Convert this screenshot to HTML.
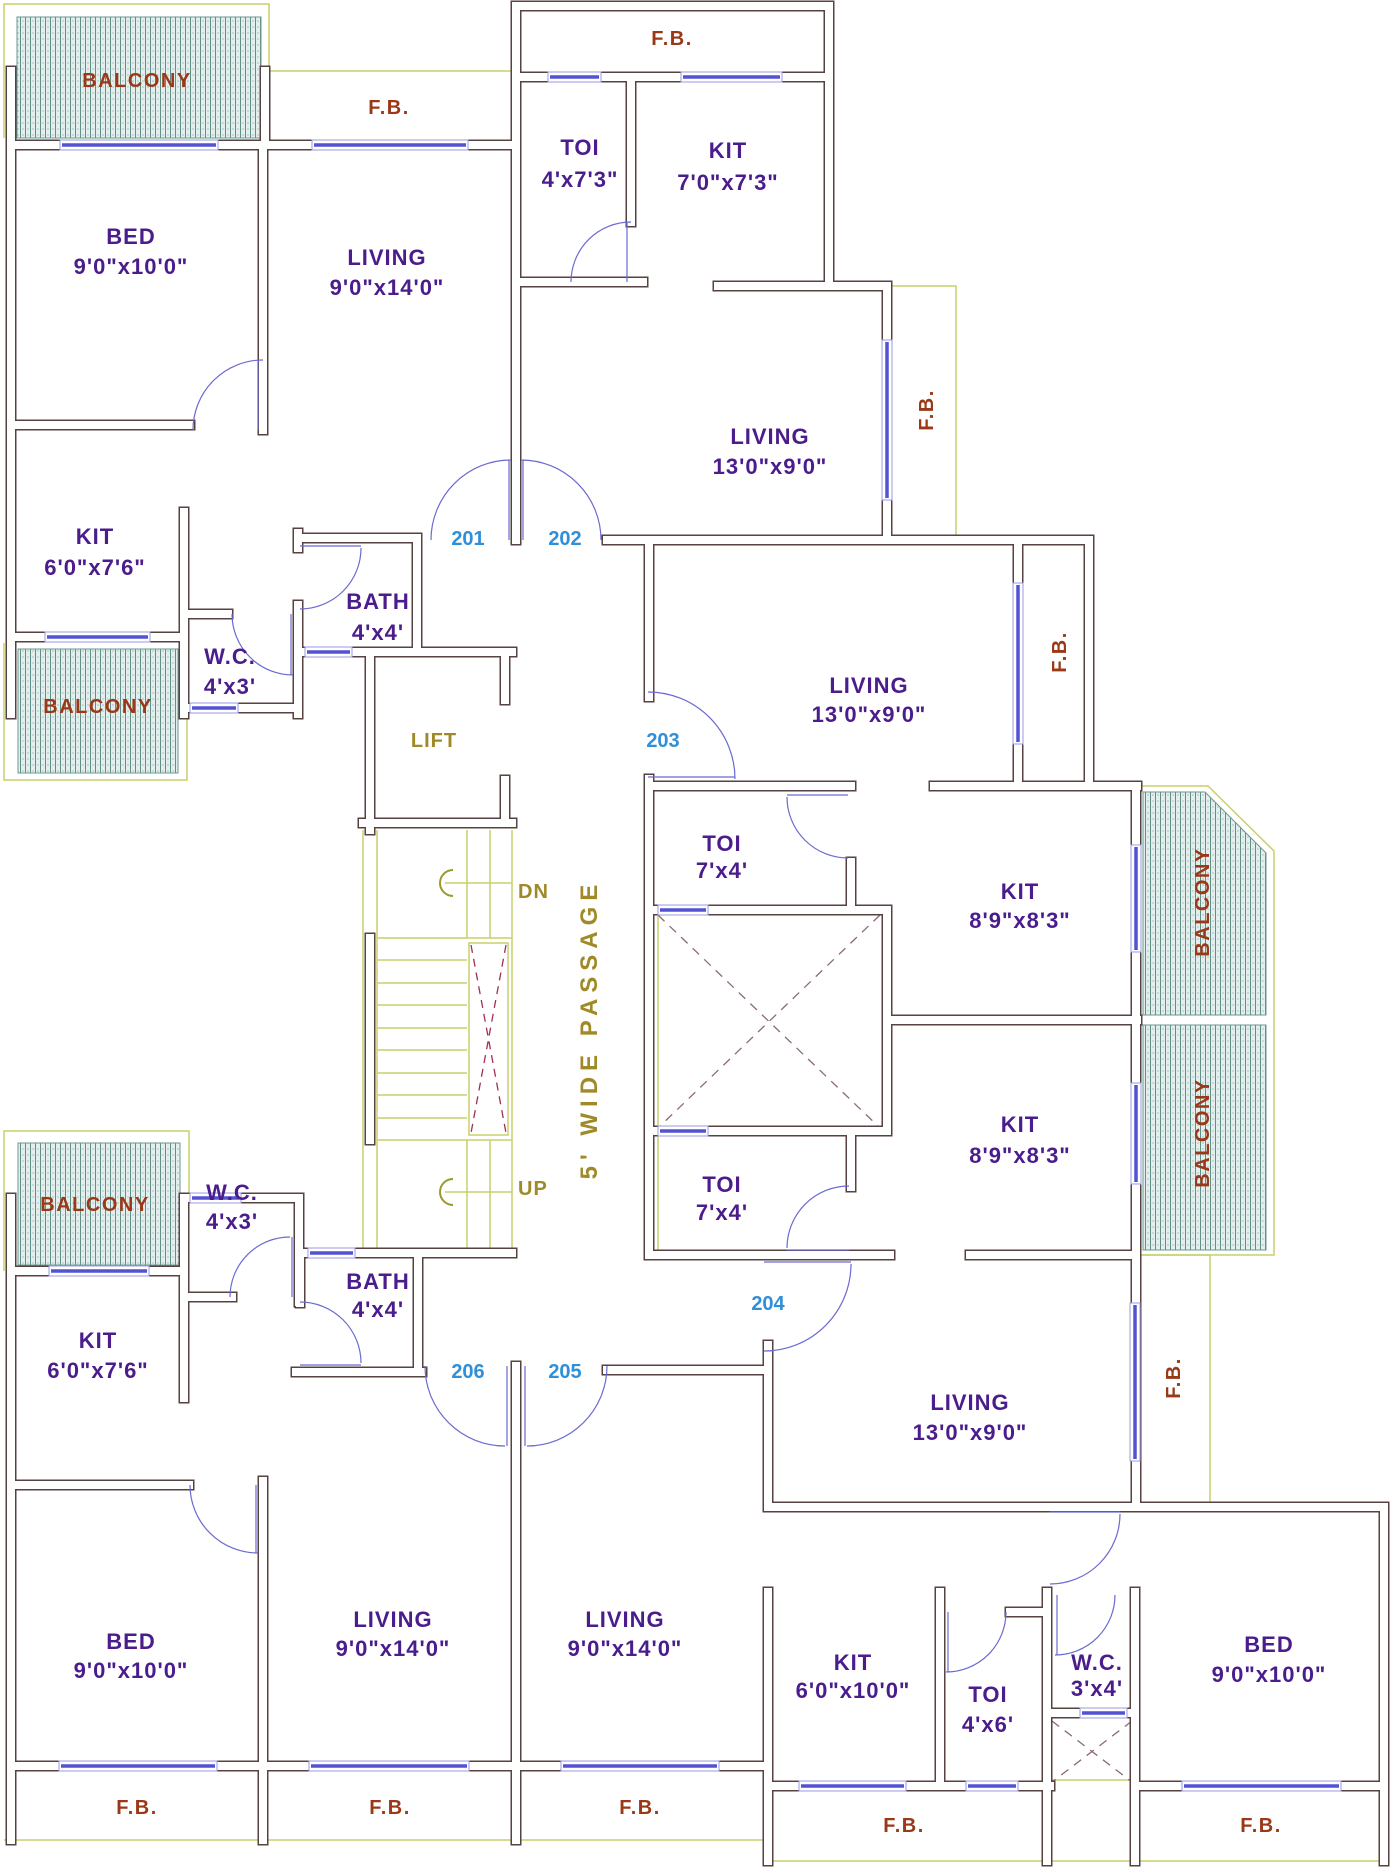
<!DOCTYPE html>
<html><head><meta charset="utf-8"><style>
html,body{margin:0;padding:0;background:#fff;}
svg{display:block;}
text{font-family:"Liberation Sans",Arial,sans-serif;font-weight:bold;}
.r{fill:#4a1c8c;font-size:22px;text-anchor:middle;letter-spacing:1px;}
.b{fill:#9a3818;font-size:20px;text-anchor:middle;letter-spacing:1.5px;}
.n{fill:#2f8fd8;font-size:20px;text-anchor:middle;}
.o{fill:#a08a28;font-size:20px;letter-spacing:1px;}
</style></head><body>
<svg width="1399" height="1867" viewBox="0 0 1399 1867" xmlns="http://www.w3.org/2000/svg">
<defs>
<pattern id="h" width="5" height="6" patternUnits="userSpaceOnUse">
<rect width="5" height="6" fill="#e4efed"/>
<line x1="0.5" y1="0" x2="0.5" y2="6" stroke="#5f8f86" stroke-width="1"/>
<circle cx="3" cy="3" r="0.6" fill="#7aa39b"/>
</pattern>
<path id="wp" d="
M11 71 V714 M11 145 H516 M265 71 V145 M263 145 V430 M11 425 H190 M516 6 V540
M184 512 V714 M11 637 H184 M184 614 H228 M298 533 V548 M298 605 V714 M298 538 H417 V652
M298 652 H512 M184 708 H298
M370 652 V830 M363 823 H512 M505 652 V700 M505 780 V823 M370 938 V1140 M300 1253 H512
M516 6 H829 V286 M516 77 H829 M631 77 V222 M516 282 H643 M718 286 H887 M887 286 V540
M607 540 H1089 V786 M1018 540 V786
M649 540 V697 M649 779 V1255 M649 786 H851 M934 786 H1137
M649 910 H887 M851 862 V910 M887 910 V1131 M887 1020 H1137 M1136 786 V1507
M649 1131 H887 M851 1131 V1187 M649 1255 H890 M970 1255 H1136
M768 1345 V1507 M607 1370 H768 M768 1507 H1384 V1861 M768 1592 V1861
M940 1592 V1786 M1010 1612 H1047 M1047 1592 V1861 M1135 1592 V1861 M1050 1713 H1135
M768 1786 H1050 M1135 1786 H1384
M11 1198 V1840 M184 1198 V1398 M11 1271 H184 M184 1198 H299 V1302 M188 1297 H232
M300 1253 V1303 M418 1253 V1372 M296 1372 H422
M11 1485 H189 M263 1481 V1840 M516 1366 V1840 M11 1766 H768
"/>
</defs>
<rect width="1399" height="1867" fill="#fff"/>
<g fill="url(#h)" stroke="#6a9a90" stroke-width="1">
<rect x="17" y="17" width="244" height="121"/>
<rect x="18" y="649" width="160" height="124"/>
<rect x="18" y="1143" width="162" height="122"/>
<polygon points="1143,792 1205,792 1266,853 1266,1015 1143,1015"/>
<rect x="1143" y="1025" width="123" height="225"/>
</g>
<g fill="none" stroke="#c9d06a" stroke-width="1.5">
<path d="M4 138 V4 H269 V71 H514"/>
<path d="M4 643 V780 H187 V714"/>
<path d="M4 1271 V1131 H189 V1198"/>
<path d="M887 286 H956 V540"/>
<path d="M1137 786 H1208 L1274 851 V1255 H1137"/>
<path d="M1135 1255 H1210 V1507"/>
<path d="M4 1840 H768"/>
<path d="M768 1861 H1384"/>
<path d="M1050 1780 H1135"/>
<path d="M658 914 V1255"/>
<path d="M363 830 V1253 M377 830 V1253 M512 830 V1253 M467 830 V938 M490 830 V938 M467 1140 V1253 M490 1140 V1253 M377 938 H512 M377 1140 H512"/>
<path d="M377 960 H467 M377 983 H467 M377 1005 H467 M377 1028 H467 M377 1050 H467 M377 1073 H467 M377 1095 H467 M377 1118 H467"/>
<rect x="469" y="943" width="39" height="192"/>
<path d="M445 883 H512 M445 1192 H512"/>
<path d="M453 870 A13 13 0 0 0 453 896" stroke="#9a9a30" stroke-width="2"/>
<path d="M453 1179 A13 13 0 0 0 453 1205" stroke="#9a9a30" stroke-width="2"/>
</g>
<g stroke="#a03050" stroke-width="1.3" stroke-dasharray="8 6" fill="none">
<path d="M471 945 L506 1133 M506 945 L471 1133"/>
</g>
<g stroke="#8a6a78" stroke-width="1.3" stroke-dasharray="9 7" fill="none">
<path d="M658 915 L880 1128 M880 915 L658 1128"/>
<path d="M1052 1721 L1132 1782 M1132 1721 L1052 1782"/>
</g>
<g fill="none" stroke-linecap="square">
<g stroke="#574242" stroke-width="11"><use href="#wp"/></g>
<g stroke="#ffffff" stroke-width="8"><use href="#wp"/></g>
</g>
<g fill="#fff" stroke="#9a9ae6" stroke-width="1">
<rect x="60" y="140" width="158" height="10"/><rect x="312" y="140" width="156" height="10"/>
<rect x="45" y="632" width="105" height="10"/><rect x="190" y="703" width="48" height="10"/>
<rect x="305" y="647" width="47" height="10"/><rect x="548" y="72" width="53" height="10"/>
<rect x="681" y="72" width="101" height="10"/><rect x="658" y="905" width="50" height="10"/>
<rect x="658" y="1126" width="50" height="10"/><rect x="1080" y="1708" width="47" height="10"/>
<rect x="799" y="1781" width="107" height="10"/><rect x="966" y="1781" width="52" height="10"/>
<rect x="1182" y="1781" width="159" height="10"/><rect x="59" y="1761" width="158" height="10"/>
<rect x="309" y="1761" width="160" height="10"/><rect x="561" y="1761" width="158" height="10"/>
<rect x="49" y="1266" width="100" height="10"/><rect x="190" y="1193" width="51" height="10"/>
<rect x="308" y="1248" width="47" height="10"/>
<rect x="882" y="340" width="10" height="160"/><rect x="1013" y="583" width="10" height="161"/>
<rect x="1131" y="845" width="10" height="107"/><rect x="1131" y="1083" width="10" height="101"/>
<rect x="1130" y="1303" width="10" height="158"/>
</g>
<g stroke="#5252d2" stroke-width="3.5" fill="none">
<path d="M62 145 H216 M314 145 H466 M47 637 H148 M192 708 H236 M307 652 H350 M550 77 H599 M683 77 H780 M660 910 H706 M660 1131 H706 M1082 1713 H1125 M801 1786 H904 M968 1786 H1016 M1184 1786 H1339 M61 1766 H215 M311 1766 H467 M563 1766 H717 M51 1271 H147 M192 1198 H239 M310 1253 H353"/>
<path d="M887 342 V498 M1018 585 V742 M1136 847 V950 M1136 1085 V1182 M1135 1305 V1459"/>
</g>
<g fill="none" stroke="#6a6ad2" stroke-width="1.2">
<path d="M263 360 A70 70 0 0 0 193 430 M258 360 V430"/>
<path d="M511 460 A80 80 0 0 0 431 540 M509 460 V540"/>
<path d="M521 460 A80 80 0 0 1 601 540 M523 460 V540"/>
<path d="M631 222 A60 60 0 0 0 571 282 M627 222 V282"/>
<path d="M232 614 A61 61 0 0 0 293 675 M291 614 V675"/>
<path d="M361 548 A61 61 0 0 1 300 609 M300 546 H361"/>
<path d="M648 692 A87 87 0 0 1 735 779 M648 777 H735"/>
<path d="M787 797 A61 61 0 0 0 848 858 M787 795 H848"/>
<path d="M849 1186 A62 62 0 0 0 787 1248 M787 1250 H849"/>
<path d="M851 1264 A87 87 0 0 1 764 1351 M764 1262 H851"/>
<path d="M1120 1514 A70 70 0 0 1 1050 1584 M1050 1512 H1120"/>
<path d="M946 1672 A60 60 0 0 0 1006 1612 M948 1612 V1672"/>
<path d="M1055 1655 A60 60 0 0 0 1115 1595 M1057 1595 V1655"/>
<path d="M290 1237 A60 60 0 0 0 230 1297 M292 1237 V1297"/>
<path d="M300 1302 A61 61 0 0 1 361 1363 M300 1365 H361"/>
<path d="M425 1366 A80 80 0 0 0 505 1446 M507 1366 V1446"/>
<path d="M607 1366 A80 80 0 0 1 527 1446 M525 1366 V1446"/>
<path d="M190 1485 A68 68 0 0 0 258 1553 M256 1485 V1553"/>
</g>
<text class="b" x="137" y="87">BALCONY</text>
<text class="b" x="389" y="114">F.B.</text>
<text class="b" x="672" y="45">F.B.</text>
<text class="r" x="580" y="155">TOI</text><text class="r" x="580" y="187">4'x7'3"</text>
<text class="r" x="728" y="158">KIT</text><text class="r" x="728" y="190">7'0"x7'3"</text>
<text class="r" x="131" y="244">BED</text><text class="r" x="131" y="274">9'0"x10'0"</text>
<text class="r" x="387" y="265">LIVING</text><text class="r" x="387" y="295">9'0"x14'0"</text>
<text class="r" x="770" y="444">LIVING</text><text class="r" x="770" y="474">13'0"x9'0"</text>
<text class="b" transform="translate(933,410) rotate(-90)">F.B.</text>
<text class="r" x="95" y="544">KIT</text><text class="r" x="95" y="575">6'0"x7'6"</text>
<text class="n" x="468" y="545">201</text><text class="n" x="565" y="545">202</text>
<text class="r" x="378" y="609">BATH</text><text class="r" x="378" y="640">4'x4'</text>
<text class="r" x="230" y="664">W.C.</text><text class="r" x="230" y="694">4'x3'</text>
<text class="b" x="98" y="713">BALCONY</text>
<text class="o" x="434" y="747" text-anchor="middle">LIFT</text>
<text class="r" x="869" y="693">LIVING</text><text class="r" x="869" y="722">13'0"x9'0"</text>
<text class="b" transform="translate(1066,652) rotate(-90)">F.B.</text>
<text class="n" x="663" y="747">203</text>
<text class="r" x="722" y="851">TOI</text><text class="r" x="722" y="878">7'x4'</text>
<text class="r" x="1020" y="899">KIT</text><text class="r" x="1020" y="928">8'9"x8'3"</text>
<text class="b" transform="translate(1209,902) rotate(-90)">BALCONY</text>
<text class="o" x="518" y="898">DN</text>
<text class="o" transform="translate(597,1029) rotate(-90)" text-anchor="middle" style="font-size:24px;letter-spacing:6px">5' WIDE PASSAGE</text>
<text class="r" x="1020" y="1132">KIT</text><text class="r" x="1020" y="1163">8'9"x8'3"</text>
<text class="b" transform="translate(1209,1133) rotate(-90)">BALCONY</text>
<text class="r" x="722" y="1192">TOI</text><text class="r" x="722" y="1220">7'x4'</text>
<text class="o" x="518" y="1195">UP</text>
<text class="b" x="95" y="1211">BALCONY</text>
<text class="r" x="232" y="1200">W.C.</text><text class="r" x="232" y="1229">4'x3'</text>
<text class="r" x="378" y="1289">BATH</text><text class="r" x="378" y="1317">4'x4'</text>
<text class="n" x="768" y="1310">204</text>
<text class="r" x="98" y="1348">KIT</text><text class="r" x="98" y="1378">6'0"x7'6"</text>
<text class="n" x="468" y="1378">206</text><text class="n" x="565" y="1378">205</text>
<text class="b" transform="translate(1180,1378) rotate(-90)">F.B.</text>
<text class="r" x="970" y="1410">LIVING</text><text class="r" x="970" y="1440">13'0"x9'0"</text>
<text class="r" x="131" y="1649">BED</text><text class="r" x="131" y="1678">9'0"x10'0"</text>
<text class="r" x="393" y="1627">LIVING</text><text class="r" x="393" y="1656">9'0"x14'0"</text>
<text class="r" x="625" y="1627">LIVING</text><text class="r" x="625" y="1656">9'0"x14'0"</text>
<text class="r" x="853" y="1670">KIT</text><text class="r" x="853" y="1698">6'0"x10'0"</text>
<text class="r" x="988" y="1702">TOI</text><text class="r" x="988" y="1732">4'x6'</text>
<text class="r" x="1097" y="1670">W.C.</text><text class="r" x="1097" y="1696">3'x4'</text>
<text class="r" x="1269" y="1652">BED</text><text class="r" x="1269" y="1682">9'0"x10'0"</text>
<text class="b" x="137" y="1814">F.B.</text><text class="b" x="390" y="1814">F.B.</text>
<text class="b" x="640" y="1814">F.B.</text><text class="b" x="904" y="1832">F.B.</text>
<text class="b" x="1261" y="1832">F.B.</text>
</svg>
</body></html>
